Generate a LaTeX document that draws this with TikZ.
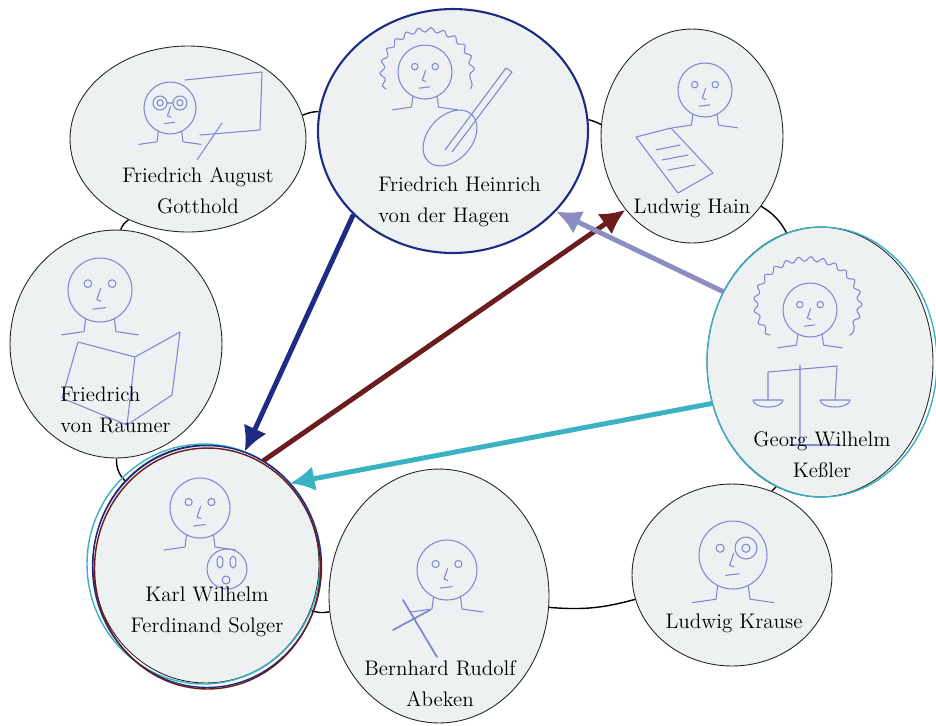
\documentclass[tikz,border=0pt]{standalone}
\usetikzlibrary{shapes.geometric,arrows.meta,backgrounds,decorations.pathmorphing}

\definecolor{paper}{HTML}{EEF1F1}
\definecolor{navyarrow}{HTML}{1F2A85}
\definecolor{redarrow}{HTML}{6B1C1E}
\definecolor{lilacarrow}{HTML}{8C8DC2}
\definecolor{tealarrow}{HTML}{3BB2C2}
\definecolor{pencil}{HTML}{7F87D3}

\tikzset{
  person/.style={ellipse, draw=black!85, fill=paper, inner sep=0pt, line width=0.5pt},
  nametext/.style={align=center, inner sep=0pt, font=\fontsize{12}{17.5}\selectfont},
  sketch/.style={draw=pencil, line width=0.6pt, line cap=round, line join=round},
  hair/.style={sketch, decorate, decoration={snake, amplitude=1.3pt, segment length=7pt}},
  ring/.style={line width=0.8pt},
  link/.style={line width=2.8pt, -{Latex[length=5mm,width=5mm]}},
  face/.pic={
    \draw[sketch] (0,0) circle (1);
    \draw[sketch] (-0.38,0.2) circle (0.12) (0.38,0.2) circle (0.12);
    \draw[sketch] (0.02,0.05) -- (-0.1,-0.3) -- (0.03,-0.35);
    \draw[sketch] (-0.22,-0.6) -- (0.18,-0.55);
    \draw[sketch] (-0.45,-0.9) -- (-0.5,-1.3) -- (-1.2,-1.4);
    \draw[sketch] (0.45,-0.9) -- (0.5,-1.3) -- (1.2,-1.4);
  }
}

\begin{document}
\begin{tikzpicture}[x=0.02cm,y=0.02cm]
    \useasboundingbox (0,0) rectangle (936,-725);

    % Personen
    \node[person, minimum width=4.72cm, minimum height=3.72cm] (gotthold) at (188,-139) {};
    \node[person, draw=navyarrow, line width=1.2pt, minimum width=5.40cm, minimum height=4.88cm] (hagen) at (453,-131) {};
    \node[person, minimum width=3.64cm, minimum height=4.28cm] (hain) at (692,-136) {};
    \node[person, minimum width=4.52cm, minimum height=5.40cm] (kessler) at (820,-362) {};
    \node[person, minimum width=4.00cm, minimum height=3.64cm] (krause) at (732,-575) {};
    \node[person, minimum width=4.40cm, minimum height=5.08cm] (abeken) at (439,-596) {};
    \node[person, minimum width=4.52cm, minimum height=4.76cm] (solger) at (206,-564) {};
    \node[person, minimum width=4.24cm, minimum height=4.56cm] (raumer) at (116,-344) {};

    % Farbige Ränder
    \draw[tealarrow, line width=0.8pt] ([xshift=0.04cm]kessler.center) ellipse (2.30cm and 2.70cm);
    \draw[tealarrow, line width=0.8pt] ([xshift=-0.05cm]solger.center) ellipse (2.33cm and 2.40cm);
    \draw[navyarrow, line width=0.8pt] ([xshift=0.02cm,yshift=-0.05cm]solger.center) ellipse (2.29cm and 2.42cm);
    \draw[redarrow, line width=0.8pt] ([xshift=0.03cm,yshift=-0.09cm]solger.center) ellipse (2.26cm and 2.41cm);

    % Ring
    \begin{scope}[on background layer]
        \fill[white] (0,0) rectangle (936,-725);
        \draw[ring] (gotthold) to[bend left=10] (hagen);
        \draw[ring] (hagen) to[bend left=6] (hain);
        \draw[ring] (hain) to[bend left=15] (kessler);
        \draw[ring] (kessler) to[bend left=3] (krause);
        \draw[ring] (krause) to[bend left=10] (abeken);
        \draw[ring] (abeken) to[bend left=16] (solger);
        \draw[ring] (solger) to[bend left=22] (raumer);
        \draw[ring] (raumer) to[bend left=17] (gotthold);
    \end{scope}

    % Zeichnungen
    \pic[scale=26] at (170,-108) {face};
    \draw[sketch] (160,-103) circle (7) (180,-103) circle (7) (167,-103) -- (173,-103);
    \draw[sketch] (185,-80) -- (262,-72) -- (260,-130) -- (200,-135) (222,-123) -- (197,-160);

    \pic[scale=27] at (425,-72) {face};
    \draw[hair] (386,-89) arc[start angle=200, end angle=-20, x radius=45, y radius=42];
    \draw[sketch, rotate around={48:(450,-138)}] (450,-138) ellipse (32 and 22);
    \draw[sketch] (445,-150) -- (506,-68) -- (512,-72) -- (452,-152);

    \pic[scale=27] at (705,-90) {face};
    \draw[sketch] (636,-137) -- (671,-128) -- (713,-173) -- (678,-193) -- cycle;
    \draw[sketch] (656,-150) -- (680,-145) (662,-160) -- (688,-155) (668,-170) -- (695,-165);

    \pic[scale=27] at (810,-310) {face};
    \draw[hair] (770,-335) arc[start angle=220, end angle=-40, x radius=52, y radius=45];
    \draw[sketch] (800,-365) -- (800,-445) (768,-372) -- (837,-366) (768,-372) -- (768,-400) (837,-366) -- (835,-400);
    \draw[sketch] (753,-400) arc[start angle=180, end angle=360, x radius=15, y radius=7] -- cycle;
    \draw[sketch] (820,-400) arc[start angle=180, end angle=360, x radius=15, y radius=7] -- cycle;
    \draw[sketch] (790,-445) -- (840,-445);

    \pic[scale=34] at (733,-555) {face};
    \draw[sketch] (746,-548) circle (11);

    \pic[scale=30] at (447,-570) {face};
    \draw[sketch, line width=1pt] (403,-600) -- (437,-657) (393,-630) -- (430,-610);

    \pic[scale=30] at (200,-508) {face};
    \draw[sketch] (227,-569) circle (20) (220,-562) ellipse (3 and 6) (233,-562) ellipse (3 and 6) (226,-580) circle (4);

    \pic[scale=32] at (100,-290) {face};
    \draw[sketch] (78,-342) -- (135,-357) -- (127,-425) -- (62,-398) -- cycle (135,-357) -- (180,-332) -- (172,-395) -- (127,-425);

    % Namen
    \node[nametext] (gottholdname) at (198,-191) {Friedrich August\\Gotthold};
    \node[nametext, align=left, anchor=west] (hagenname) at (378,-202) {Friedrich Heinrich\\von der Hagen};
    \node[nametext] (hainname) at (692,-208) {Ludwig Hain};
    \node[nametext] (kesslername) at (822,-455) {Georg Wilhelm\\Keßler};
    \node[nametext] (krausename) at (734,-623) {Ludwig Krause};
    \node[nametext] (abekenname) at (440,-684) {Bernhard Rudolf\\Abeken};
    \node[nametext] (solgername) at (207,-612) {Karl Wilhelm\\Ferdinand Solger};
    \node[nametext, align=left, anchor=west] (raumername) at (60,-410) {Friedrich\\von Raumer};

    % Beziehungen
    \draw[link, navyarrow] (hagen.220) -- (solger.71);
    \draw[link, redarrow] (solger.61) -- (hain.228);
    \draw[link, lilacarrow] (kessler.144) -- (hagen.322);
    \draw[link, tealarrow] (kessler.201) -- (solger.44);
\end{tikzpicture}
\end{document}
